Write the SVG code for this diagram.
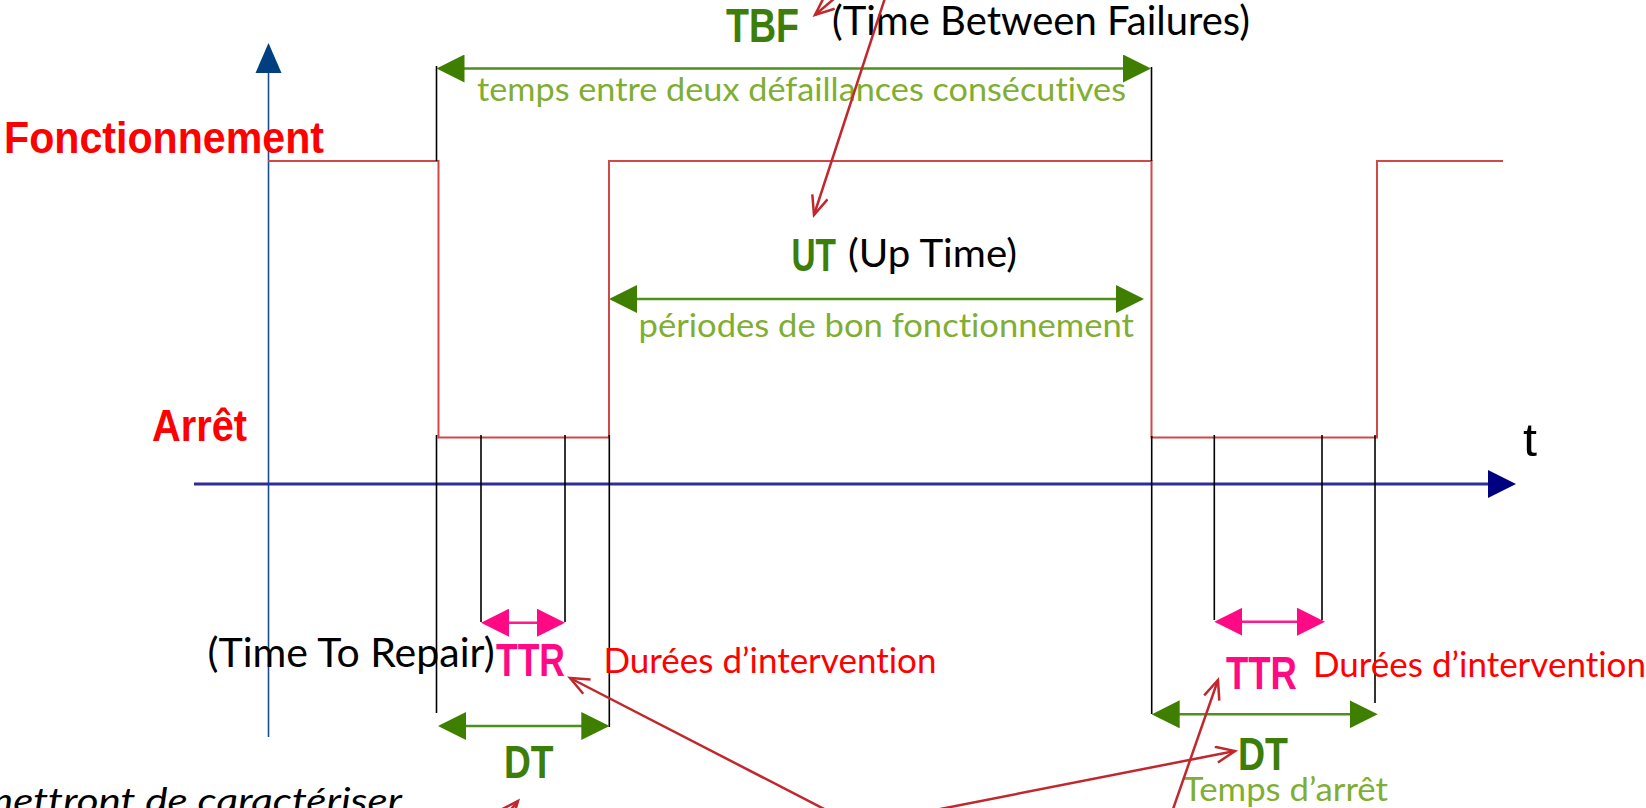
<svg xmlns="http://www.w3.org/2000/svg" width="1646" height="808" viewBox="0 0 1646 808">
  <defs>
    <style>
      .state { fill: none; stroke: #d04848; stroke-width: 2; }
      .tick { stroke: #000; stroke-width: 1.6; fill: none; }
      .dim-green { stroke: #4f8f1c; stroke-width: 2.5; fill: none; marker-start: url(#headGreen); marker-end: url(#headGreen); }
      .dim-pink { stroke: #ff1a8c; stroke-width: 2.5; fill: none; marker-start: url(#headPink); marker-end: url(#headPink); }
      .callout { stroke: #c0282d; stroke-width: 2.5; fill: none; marker-end: url(#headOpen); }
      .lbl { font-family: "Liberation Sans", Arial, sans-serif; font-weight: bold; }
      .gill { font-family: Lato, "Open Sans", sans-serif; font-variant-ligatures: none; font-feature-settings: "liga" 0, "clig" 0; }
      .red { fill: #ff0000; }
      .dkgreen { fill: #3d7d0a; }
      .ltgreen { fill: #7fae32; }
      .pink { fill: #ff0a84; }
      .black { fill: #000; }
    </style>
    <marker id="headGreen" markerUnits="userSpaceOnUse" markerWidth="28" markerHeight="28" refX="25" refY="14" orient="auto-start-reverse">
      <path d="M0,0 L28,14 L0,28 z" fill="#3f7f00"/>
    </marker>
    <marker id="headPink" markerUnits="userSpaceOnUse" markerWidth="28" markerHeight="28" refX="25" refY="14" orient="auto-start-reverse">
      <path d="M0,0 L28,14 L0,28 z" fill="#ff0a84"/>
    </marker>
    <marker id="headOpen" markerUnits="userSpaceOnUse" markerWidth="24" markerHeight="20" refX="20" refY="9" orient="auto">
      <path d="M1,1 L20,9 L1,17" fill="none" stroke="#c0282d" stroke-width="2.5"/>
    </marker>
  </defs>

  <rect width="1646" height="808" fill="#fff"/>

  <!-- axes -->
  <g id="axis-state">
    <line x1="268.5" y1="70" x2="268.5" y2="737" stroke="#1a4f8f" stroke-width="1.6"/>
    <path d="M268.5,43 L255.5,73 L281.5,73 z" fill="#003f80"/>
    <text class="lbl red" x="4" y="153" font-size="45" textLength="320" lengthAdjust="spacingAndGlyphs">Fonctionnement</text>
    <text class="lbl red" x="152" y="441" font-size="45" textLength="95" lengthAdjust="spacingAndGlyphs">Arrêt</text>
  </g>
  <g id="axis-time">
    <line x1="194" y1="484" x2="1490" y2="484" stroke="#2e2e98" stroke-width="3"/>
    <path d="M1516,484 L1488,470 L1488,498 z" fill="#000080"/>
    <text x="1523" y="456" font-family="Liberation Sans, Arial, sans-serif" font-size="46" textLength="14" lengthAdjust="spacingAndGlyphs" fill="#000">t</text>
  </g>

  <!-- state signal -->
  <g id="signal">
    <polyline class="state" points="268,161 438.5,161 438.5,437.5 609,437.5 609,161 1151.5,161 1151.5,437.5 1377,437.5 1377,161 1503,161"/>
  </g>

  <!-- guide ticks -->
  <g id="ticks">
    <line class="tick" x1="436.5" y1="66" x2="436.5" y2="161"/>
    <line class="tick" x1="1151.5" y1="67" x2="1151.5" y2="161"/>
    <line class="tick" x1="436.5" y1="435" x2="436.5" y2="713"/>
    <line class="tick" x1="481" y1="435" x2="481" y2="622"/>
    <line class="tick" x1="565" y1="435" x2="565" y2="622"/>
    <line class="tick" x1="609.3" y1="435" x2="609.3" y2="727"/>
    <line class="tick" x1="1151.7" y1="436" x2="1151.7" y2="714"/>
    <line class="tick" x1="1214.3" y1="435" x2="1214.3" y2="620"/>
    <line class="tick" x1="1322" y1="435" x2="1322" y2="620"/>
    <line class="tick" x1="1375" y1="435" x2="1375" y2="703"/>
  </g>

  <!-- TBF -->
  <g id="tbf">
    <line class="dim-green" x1="439.5" y1="68.5" x2="1148" y2="68.5"/>
    <text class="lbl dkgreen" x="726" y="42" font-size="48" textLength="73" lengthAdjust="spacingAndGlyphs">TBF</text>
    <text class="gill black" x="832" y="35" font-size="40" textLength="418" lengthAdjust="spacingAndGlyphs">(Time Between Failures)</text>
    <text class="gill ltgreen" x="477" y="101" font-size="33" textLength="649" lengthAdjust="spacingAndGlyphs">temps entre deux défaillances consécutives</text>
  </g>

  <!-- UT -->
  <g id="ut">
    <line class="dim-green" x1="612" y1="299" x2="1141" y2="299"/>
    <text class="lbl dkgreen" x="791.5" y="271" font-size="47" textLength="44.5" lengthAdjust="spacingAndGlyphs">UT</text>
    <text class="gill black" x="848" y="267" font-size="38" textLength="169" lengthAdjust="spacingAndGlyphs">(Up Time)</text>
    <text class="gill ltgreen" x="638.5" y="337" font-size="33" textLength="495.5" lengthAdjust="spacingAndGlyphs">périodes de bon fonctionnement</text>
  </g>

  <!-- first stop -->
  <g id="ttr-1">
    <line class="dim-pink" x1="484" y1="622.7" x2="562" y2="622.7"/>
    <text class="gill black" x="207.6" y="667" font-size="40" textLength="287" lengthAdjust="spacingAndGlyphs">(Time To Repair)</text>
    <text class="lbl pink" x="496" y="676" font-size="46" textLength="69" lengthAdjust="spacingAndGlyphs">TTR</text>
    <text class="gill red" x="603.5" y="673" font-size="35" textLength="333" lengthAdjust="spacingAndGlyphs">Durées d’intervention</text>
  </g>
  <g id="dt-1">
    <line class="dim-green" x1="441" y1="726" x2="606.3" y2="726"/>
    <text class="lbl dkgreen" x="504" y="778" font-size="46" textLength="49.5" lengthAdjust="spacingAndGlyphs">DT</text>
  </g>

  <!-- second stop -->
  <g id="ttr-2">
    <line class="dim-pink" x1="1217.3" y1="621.7" x2="1322" y2="621.7"/>
    <text class="lbl pink" x="1226" y="689" font-size="47" textLength="71" lengthAdjust="spacingAndGlyphs">TTR</text>
    <text class="gill red" x="1313" y="677" font-size="35" textLength="333" lengthAdjust="spacingAndGlyphs">Durées d’intervention</text>
  </g>
  <g id="dt-2">
    <line class="dim-green" x1="1154.7" y1="714.3" x2="1374.7" y2="714.3"/>
    <text class="lbl dkgreen" x="1238" y="770" font-size="46" textLength="50" lengthAdjust="spacingAndGlyphs">DT</text>
    <text class="gill ltgreen" x="1183" y="801" font-size="32" textLength="205" lengthAdjust="spacingAndGlyphs">Temps d’arrêt</text>
  </g>

  <!-- caption -->
  <g id="caption">
    <text class="gill black" x="-20" y="813" font-size="35" font-style="italic" textLength="422" lengthAdjust="spacingAndGlyphs">mettront de caractériser</text>
  </g>

  <!-- callout arrows -->
  <g id="connectors">
    <line class="callout" x1="842" y1="-8" x2="815" y2="15"/>
    <line class="callout" x1="886" y1="-5" x2="814" y2="215"/>
    <line class="callout" x1="830" y1="812" x2="570" y2="678"/>
    <line class="callout" x1="925" y1="812" x2="1235" y2="751"/>
    <line class="callout" x1="1172" y1="812" x2="1218" y2="680"/>
    <line class="callout" x1="492" y1="832" x2="518" y2="801"/>
  </g>
</svg>
